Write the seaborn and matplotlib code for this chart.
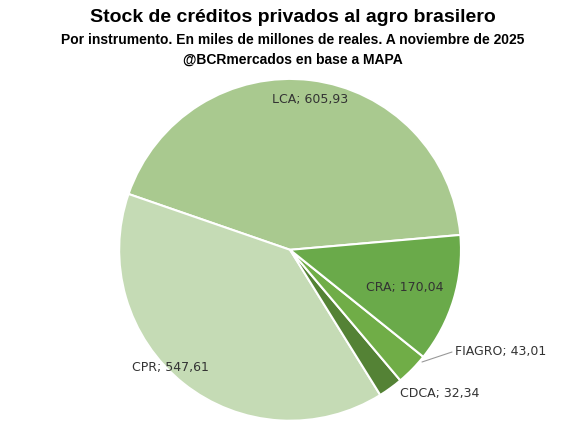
import matplotlib
matplotlib.use("Agg")
import matplotlib.pyplot as plt
import seaborn as sns

sns.set_theme(style="white")
plt.rcParams['font.family'] = ['Liberation Sans', 'DejaVu Sans']

categories = ["LCA", "CPR", "CDCA", "FIAGRO", "CRA"]
values = [605.93, 547.61, 32.34, 43.01, 170.04]
colors = ["#a9c98f", "#c5dbb5", "#548235", "#70ad47", "#6aaa4a"]

fig = plt.figure(figsize=(5.86, 4.22), dpi=100)
ax = fig.add_axes([0.203, 0.003, 0.584, 0.81])
wedges, _ = ax.pie(values, colors=colors, startangle=5, counterclock=True,
                   wedgeprops=dict(edgecolor="white", linewidth=1.5))
ax.set_xlim(-1, 1)
ax.set_ylim(-1, 1)
ax.set_aspect("equal")

def lab(i):
    return f"{categories[i]}; {values[i]:.2f}".replace(".", ",")

fs = 9
lf = ['DejaVu Sans']
fig.text(310/586, 1-100/422, lab(0), ha="center", va="center", fontsize=fs, color="#333333", family=lf)
fig.text(170/586, 1-368/422, lab(1), ha="center", va="center", fontsize=fs, color="#333333", family=lf)
fig.text(440/586, 1-393/422, lab(2), ha="center", va="center", fontsize=fs, color="#333333", family=lf)
fig.text(455/586, 1-352/422, lab(3), ha="left", va="center", fontsize=fs, color="#333333", family=lf)
fig.text(405/586, 1-287/422, lab(4), ha="center", va="center", fontsize=fs, color="#333333", family=lf)
fig.add_artist(plt.Line2D([422/586, 452/586], [1-362/422, 1-352/422], color="#999999", lw=0.8))

fig.text(0.5, 1-17/422, "Stock de créditos privados al agro brasilero", ha="center", va="center",
         fontsize=14, fontweight="bold", color="black")
fig.text(0.5, 1-40/422, "Por instrumento. En miles de millones de reales. A noviembre de 2025",
         ha="center", va="center", fontsize=10, fontweight="bold", color="black")
fig.text(0.5, 1-60/422, "@BCRmercados en base a MAPA", ha="center", va="center",
         fontsize=10, fontweight="bold", color="black")
fig.savefig("out.png", dpi=100)
